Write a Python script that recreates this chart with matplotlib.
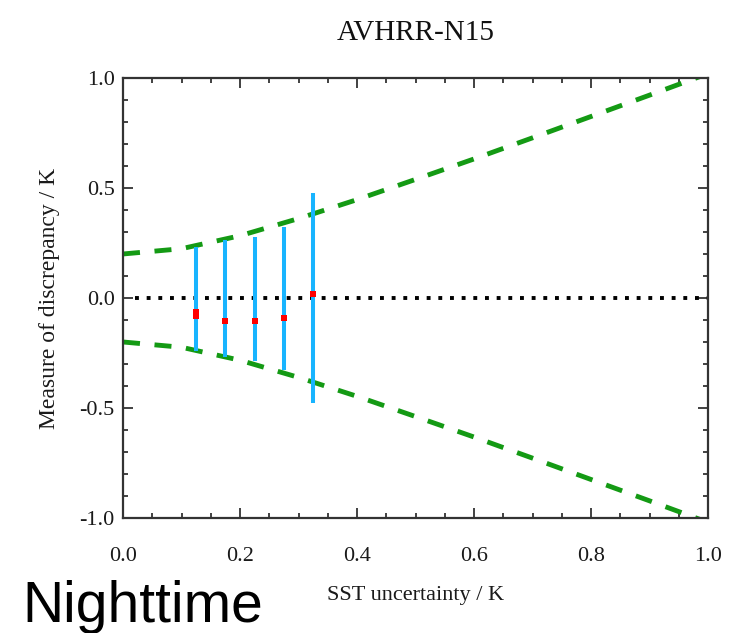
import numpy as np
import matplotlib
matplotlib.use('Agg')
import matplotlib.pyplot as plt
from matplotlib.ticker import MultipleLocator

# Bin centres (SST uncertainty / K), mean discrepancy and spread of each bin
bin_x = [0.125, 0.175, 0.225, 0.275, 0.325]
bin_mean = [-0.075, -0.103, -0.103, -0.092, 0.017]
bin_top = [0.233, 0.264, 0.279, 0.324, 0.475]
bin_bottom = [-0.240, -0.270, -0.286, -0.327, -0.476]

# Expected envelope (upper branch, lower is mirrored)
env_x = [0.0, 0.1, 0.2, 0.3, 0.4, 0.5, 0.6, 0.7, 0.8, 0.9, 1.0]
env_upper = [0.20, 0.224, 0.283, 0.361, 0.447, 0.539, 0.632, 0.728, 0.825, 0.922, 1.02]
env_lower = [-v for v in env_upper]

title = 'AVHRR-N15'
xlabel = 'SST uncertainty / K'
ylabel = 'Measure of discrepancy / K'
note = 'Nighttime'

serif = ['Liberation Serif', 'DejaVu Serif']
green = '#149a14'
blue = '#18b4ff'

fig = plt.figure(figsize=(7.34, 6.33), dpi=100)
ax = fig.add_axes([0.1676, 0.1817, 0.797, 0.6951])

ax.plot([0.02, 1], [0, 0], color='black', lw=2.8, linestyle=(0, (1, 2.0)))
ax.plot(env_x, env_upper, color=green, lw=3.5, linestyle=(0, (3.5, 3)))
ax.plot(env_x, env_lower, color=green, lw=3.5, linestyle=(0, (3.5, 3)))

for i in range(len(bin_x)):
    ax.plot([bin_x[i], bin_x[i]], [bin_bottom[i], bin_top[i]], color=blue, lw=2.9,
            solid_capstyle='butt')
# first bin has a taller red mark
ax.plot(bin_x[0], bin_mean[0], marker=[(-0.6, -1), (0.6, -1), (0.6, 1), (-0.6, 1)],
        color='red', ms=7.5, mew=0)
ax.plot(bin_x[1:], bin_mean[1:], 's', color='red', ms=4, mew=0)

ax.set_xlim(0, 1)
ax.set_ylim(-1, 1)
ax.xaxis.set_major_locator(MultipleLocator(0.2))
ax.xaxis.set_minor_locator(MultipleLocator(0.05))
ax.yaxis.set_major_locator(MultipleLocator(0.5))
ax.yaxis.set_minor_locator(MultipleLocator(0.1))
ax.tick_params(which='both', direction='in', top=True, right=True, color='#333333', width=1.3)
ax.tick_params(which='major', length=7)
ax.tick_params(which='minor', length=3.5)
ax.tick_params(axis='x', which='major', pad=21)
ax.tick_params(axis='y', which='major', pad=6)
ax.xaxis.set_major_formatter(plt.FuncFormatter(lambda v, p: '%.1f' % v))
ax.yaxis.set_major_formatter(plt.FuncFormatter(lambda v, p: '%.1f' % v))
for lab in ax.get_xticklabels() + ax.get_yticklabels():
    lab.set_family(serif)
    lab.set_fontsize(16)
    lab.set_color('#1a1a1a')
for s in ax.spines.values():
    s.set_linewidth(1.6)
    s.set_color('#333333')

ax.set_title(title, family=serif, fontsize=21, pad=27, color='#111111')
ax.set_xlabel(xlabel, family=serif, fontsize=16, labelpad=14, color='#1a1a1a')
ax.set_ylabel(ylabel, family=serif, fontsize=17, labelpad=14, color='#1a1a1a')

fig.text(22 / 734, 11 / 633, note, family=['Liberation Sans', 'DejaVu Sans'],
         fontsize=41, va='baseline', ha='left')

fig.savefig('out.png', dpi=100)
